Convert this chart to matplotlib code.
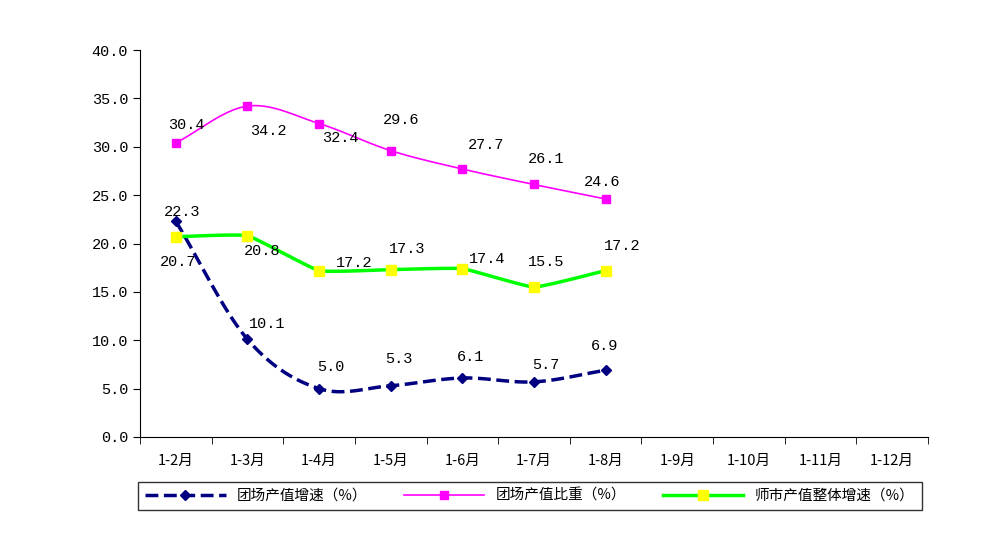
import numpy as np
import matplotlib
matplotlib.use("Agg")
import matplotlib.pyplot as plt

categories = ["1-2月","1-3月","1-4月","1-5月","1-6月","1-7月","1-8月","1-9月","1-10月","1-11月","1-12月"]
growth = [22.3, 10.1, 5.0, 5.3, 6.1, 5.7, 6.9]
share = [30.4, 34.2, 32.4, 29.6, 27.7, 26.1, 24.6]
overall = [20.7, 20.8, 17.2, 17.3, 17.4, 15.5, 17.2]
names = ["团场产值增速（%）", "团场产值比重（%）", "师市产值整体增速（%）"]

# label offsets in pixels (dx, dy up)
off_growth = [(6,9),(20,15),(12,22),(8,27),(8,21),(12,17),(-1,24)]
off_share = [(11,18),(21,-25),(21,-14),(10,31),(24,24),(12,25),(-4,17)]
off_overall = [(2,-25),(15,-15),(35,8),(16,21),(25,10),(12,25),(17,25)]

plt.rcParams["font.family"] = ["Noto Sans CJK SC", "Noto Sans CJK JP", "DejaVu Sans"]
NUM = "Liberation Mono"

def smooth(x, y, tension=1.0, n=20):
    x = np.asarray(x, float); y = np.asarray(y, float)
    P = np.column_stack([x, y])
    P = np.vstack([P[0] - (P[1]-P[0]), P, P[-1] + (P[-1]-P[-2])])
    out = []
    for i in range(1, len(P)-2):
        p0, p1, p2, p3 = P[i-1], P[i], P[i+1], P[i+2]
        m1 = tension*(p2-p0)/2; m2 = tension*(p3-p1)/2
        t = np.linspace(0, 1, n, endpoint=False)[:, None]
        h00 = 2*t**3-3*t**2+1; h10 = t**3-2*t**2+t; h01 = -2*t**3+3*t**2; h11 = t**3-t**2
        out.append(h00*p1 + h10*m1 + h01*p2 + h11*m2)
    out.append(P[-2][None, :])
    o = np.vstack(out)
    return o[:, 0], o[:, 1]

fig = plt.figure(figsize=(9.92, 5.57), dpi=100)
ax = fig.add_axes([140/992, 1-437/557, 788/992, 387/557])
x = np.arange(len(growth))

series = [
    (growth, off_growth, 1.0, dict(color="#000080", ls="--", lw=2.5), dict(marker="D", ms=5, color="#000080"), names[0]),
    (share, off_share, 1.0, dict(color="#FF00FF", ls="-", lw=1.2), dict(marker="s", ms=6, color="#FF00FF"), names[1]),
    (overall, off_overall, 0.35, dict(color="#00FF00", ls="-", lw=2.5), dict(marker="s", ms=7, color="#FFFF00"), names[2]),
]
handles = []
for vals, offs, ten, lst, mst, nm in series:
    sx, sy = smooth(x, vals, ten)
    ax.plot(sx, sy, zorder=2, **lst)
    ax.plot(x, vals, ls="none", marker=mst["marker"], ms=mst["ms"], mfc=mst["color"], mec=mst["color"], zorder=3)
    h, = ax.plot([], [], marker=mst["marker"], ms=mst["ms"], mfc=mst["color"], mec=mst["color"], **lst)
    handles.append(h)
    for xi, v, (dx, dy) in zip(x, vals, offs):
        ax.annotate(f"{v:.1f}", (xi, v), xytext=(dx*0.72, dy*0.72), textcoords="offset points",
                    ha="center", va="center", fontsize=11, family=NUM)

ax.set_xlim(-0.5, len(categories)-0.5)
ax.set_ylim(0, 40)
ax.set_yticks(np.arange(0, 41, 5))
ax.set_yticklabels([f"{v:.1f}" for v in np.arange(0, 41, 5)], family=NUM, fontsize=11)
ax.set_xticks(np.arange(len(categories)))
ax.set_xticklabels(categories, fontsize=10.5)
ax.set_xticks(np.arange(len(categories)+1)-0.5, minor=True)
ax.tick_params(axis="x", which="major", length=0, pad=12)
ax.tick_params(axis="x", which="minor", length=5, direction="out")
ax.tick_params(axis="y", length=5, direction="out")
for s in ["top", "right"]:
    ax.spines[s].set_visible(False)

leg = fig.legend(handles, names, loc="center left", ncol=3,
                 bbox_to_anchor=(138/992, 1-496/557),
                 prop={"size": 10.5}, frameon=True, fancybox=False,
                 edgecolor="black", handlelength=5.5, columnspacing=2.5,
                 borderaxespad=0, borderpad=0.5)
leg.get_frame().set_linewidth(1)
fig.canvas.draw()
# stretch frame to reference width
bb = leg.get_window_extent()
fig.savefig("out.png", dpi=100)
